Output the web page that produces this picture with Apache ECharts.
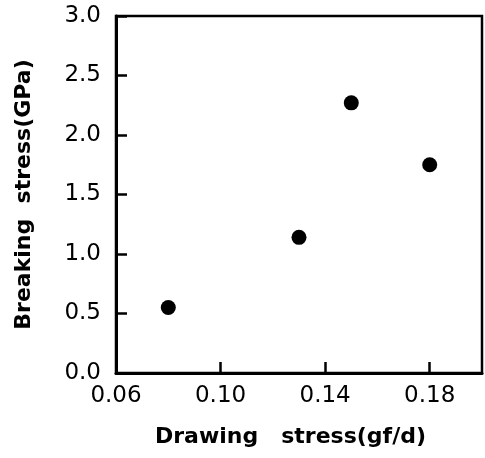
<!DOCTYPE html>
<html>
<head>
<meta charset="utf-8">
<script src="https://cdn.jsdelivr.net/npm/echarts@6/dist/echarts.min.js"></script>
<style>
  html, body { margin: 0; padding: 0; background: #fff; }
  #chart { width: 485px; height: 458px; }
</style>
</head>
<body>
<div id="chart"></div>
<script>
const drawingStress = [0.08, 0.13, 0.15, 0.18];
const breakingStress = [0.55, 1.14, 2.27, 1.75];
const xTickLabels = [0.06, 0.10, 0.14, 0.18];
const xTickMarks = [0.10, 0.14, 0.18];

const chart = echarts.init(document.getElementById("chart"));

const labelFont = "DejaVu Sans, sans-serif";
const titleFont = "DejaVu Sans, sans-serif";

const option = {
  animation: false,
  grid: {
    left: 116,
    right: 3,
    top: 16,
    bottom: 85,
    show: true,
    borderColor: "#000",
    borderWidth: 2.5,
  },
  xAxis: {
    type: "value",
    min: 0.06,
    max: 0.2,
    name: "Drawing   stress(gf/d)",
    nameLocation: "middle",
    nameGap: 53,
    nameTextStyle: {
      fontFamily: titleFont,
      fontSize: 22,
      fontWeight: "bold",
      color: "#000",
      padding: [0, 17, 0, 0],
    },
    axisLine: { show: true, lineStyle: { color: "#000", width: 3 } },
    axisTick: {
      show: true,
      inside: true,
      length: 11,
      customValues: xTickMarks,
      lineStyle: { color: "#000", width: 2.5 },
    },
    axisLabel: {
      customValues: xTickLabels,
      formatter: (v) => v.toFixed(2),
      fontFamily: labelFont,
      fontSize: 23,
      color: "#000",
      margin: 12,
    },
    splitLine: { show: false },
  },
  yAxis: {
    type: "value",
    min: 0,
    max: 3,
    interval: 0.5,
    name: "Breaking  stress(GPa)",
    nameLocation: "middle",
    nameGap: 81,
    nameTextStyle: { fontFamily: titleFont, fontSize: 22, fontWeight: "bold", color: "#000" },
    axisLine: { show: true, lineStyle: { color: "#000", width: 3 } },
    axisTick: {
      show: true,
      inside: true,
      length: 11,
      lineStyle: { color: "#000", width: 2.5 },
    },
    axisLabel: {
      formatter: (v) => v.toFixed(1),
      fontFamily: labelFont,
      fontSize: 23,
      color: "#000",
      margin: 15,
    },
    splitLine: { show: false },
  },
  series: [
    {
      type: "scatter",
      symbol: "circle",
      symbolSize: 15,
      itemStyle: { color: "#000", opacity: 1 },
      data: drawingStress.map((x, i) => [x, breakingStress[i]]),
    },
  ],
};

chart.setOption(option);
</script>
</body>
</html>
